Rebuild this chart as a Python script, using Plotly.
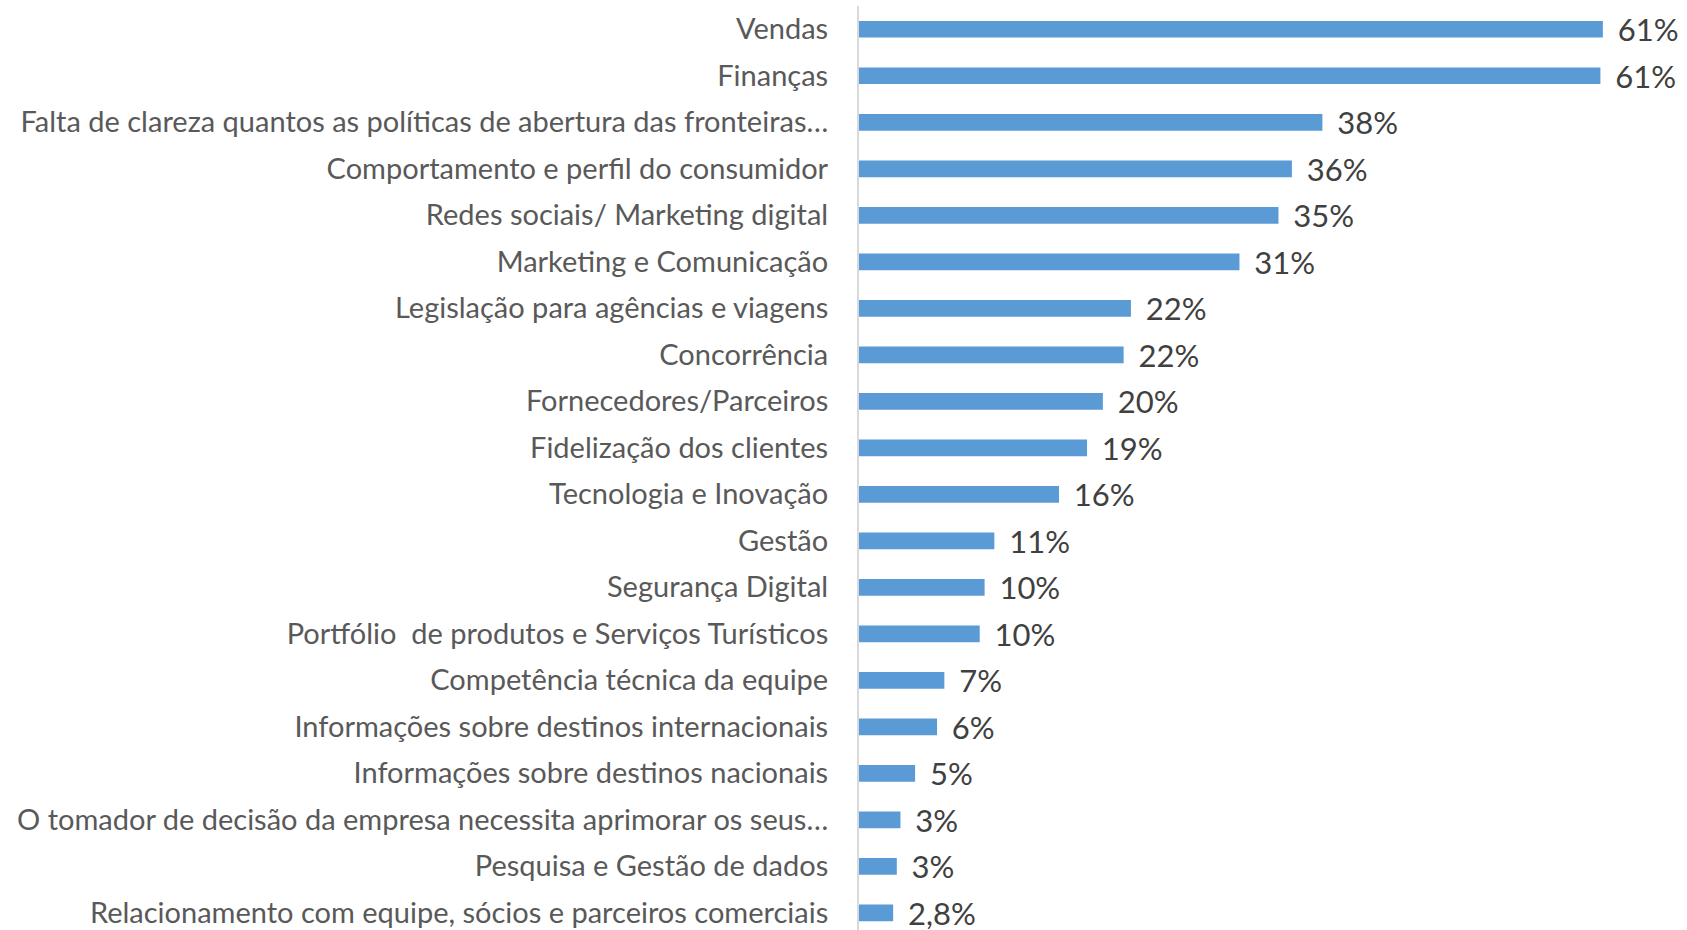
import plotly.graph_objects as go

categories = [
    "Vendas",
    "Finanças",
    "Falta de clareza quantos as políticas de abertura das fronteiras…",
    "Comportamento e perfil do consumidor",
    "Redes sociais/ Marketing digital",
    "Marketing e Comunicação",
    "Legislação para agências e viagens",
    "Concorrência",
    "Fornecedores/Parceiros",
    "Fidelização dos clientes",
    "Tecnologia e Inovação",
    "Gestão",
    "Segurança Digital",
    "Portfólio  de produtos e Serviços Turísticos",
    "Competência técnica da equipe",
    "Informações sobre destinos internacionais",
    "Informações sobre destinos nacionais",
    "O tomador de decisão da empresa necessita aprimorar os seus…",
    "Pesquisa e Gestão de dados",
    "Relacionamento com equipe, sócios e parceiros comerciais",
]
values = [61.0, 60.8, 38.0, 35.5, 34.4, 31.2, 22.3, 21.7, 20.0, 18.7,
          16.4, 11.1, 10.3, 9.9, 7.0, 6.4, 4.6, 3.4, 3.1, 2.8]
value_labels = ["61%", "61%", "38%", "36%", "35%", "31%", "22%", "22%", "20%", "19%",
                "16%", "11%", "10%", "10%", "7%", "6%", "5%", "3%", "3%", "2,8%"]

FONT = "Lato"

fig = go.Figure(go.Bar(
    x=values,
    y=categories,
    orientation="h",
    width=0.36,
    marker=dict(color="#5b9bd5", line=dict(width=0)),
    text=value_labels,
    texttemplate="\u00a0\u2009%{text}",
    textposition="outside",
    constraintext="none",
    textfont=dict(family=FONT, size=31, color="#404040"),
    cliponaxis=False,
    hoverinfo="skip",
))

fig.update_layout(
    width=1687, height=930,
    margin=dict(l=859, r=0, t=6, b=0),
    paper_bgcolor="white", plot_bgcolor="white",
    showlegend=False,
    font=dict(family=FONT),
)
fig.update_xaxes(range=[0, 67.9], visible=False, showgrid=False, zeroline=False)
fig.update_yaxes(
    type="category",
    range=[19.37, -0.5],
    automargin=False,
    showline=True, linecolor="#d9d9d9", linewidth=2,
    ticks="", showgrid=False, zeroline=False,
    tickfont=dict(family=FONT, size=29, color="#595959"),
    ticklabelstandoff=23,
)

fig.write_html("out.html", config={"displayModeBar": False},
               post_script="document.body.style.margin='0';")
